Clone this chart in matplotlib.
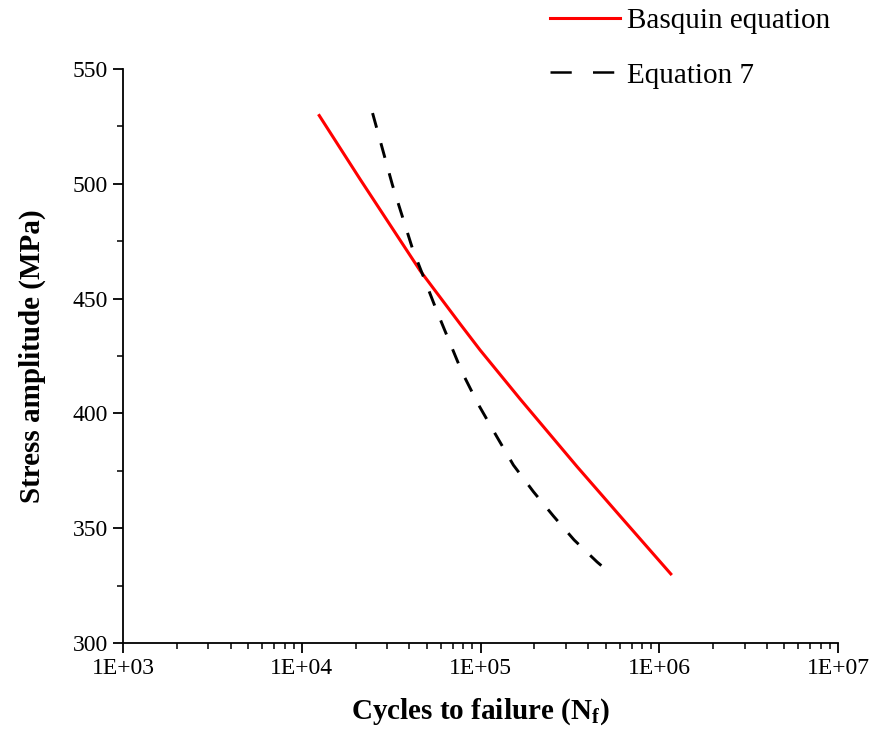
import numpy as np
import matplotlib
matplotlib.use('Agg')
import matplotlib.pyplot as plt
from matplotlib.lines import Line2D
from matplotlib.ticker import MultipleLocator, LogLocator, FuncFormatter, NullFormatter

plt.rcParams['font.family'] = ['Liberation Serif', 'DejaVu Serif']
plt.rcParams['mathtext.fontset'] = 'custom'
plt.rcParams['mathtext.rm'] = 'Liberation Serif'
plt.rcParams['mathtext.bf'] = 'Liberation Serif:bold'

# Basquin fit (cycles, stress amplitude in MPa)
basquin_n = [12380, 21180, 45860, 76780, 99360, 166300, 346700, 603200, 1174000]
basquin_s = [530.3, 502.0, 462.2, 439.0, 427.6, 406.3, 376.8, 355.3, 329.6]

# Equation 7 prediction
eq7_n = [24870, 32120, 41540, 56890, 78500, 96830, 123200, 152600,
         197500, 255500, 333500, 448500, 490800]
eq7_s = [530.8, 499.5, 471.9, 444.6, 418.2, 404.1, 389.9, 377.5,
         365.9, 355.3, 344.9, 335.3, 332.7]

fig = plt.figure(figsize=(8.73, 7.42), dpi=100)
ax = fig.add_axes([0.141, 0.1334, 0.819, 0.7736])

ax.plot(basquin_n, basquin_s, color='#ff0000', linewidth=2.2, solid_capstyle='butt')
ax.plot(eq7_n, eq7_s, color='black', linewidth=2.1, dashes=(5.2, 5.5))

ax.set_xscale('log')
ax.set_xlim(1e3, 1e7)
ax.set_ylim(300, 550)

ax.yaxis.set_major_locator(MultipleLocator(50))
ax.yaxis.set_minor_locator(MultipleLocator(25))
ax.xaxis.set_major_locator(LogLocator(base=10, numticks=10))
ax.xaxis.set_minor_locator(LogLocator(base=10, subs=np.arange(2, 10), numticks=20))
ax.xaxis.set_major_formatter(FuncFormatter(lambda v, p: '1E+%02d' % int(round(np.log10(v)))))
ax.xaxis.set_minor_formatter(NullFormatter())

ax.tick_params(which='major', direction='out', length=7, width=1.3, labelsize=17, pad=4)
ax.tick_params(which='minor', direction='out', length=4, width=1.1)

ax.spines['top'].set_visible(False)
ax.spines['right'].set_visible(False)
ax.spines['left'].set_linewidth(1.3)
ax.spines['bottom'].set_linewidth(1.3)

ax.set_xlabel(r'Cycles to failure ($\mathbf{N}_\mathbf{f}$)', fontsize=21, fontweight='bold', labelpad=12)
ax.set_ylabel('Stress amplitude (MPa)', fontsize=21, fontweight='bold', labelpad=19)

handles = [Line2D([], [], color='#ff0000', linewidth=2.2),
           Line2D([], [], color='black', linewidth=1.8, dashes=(8.5, 8.5))]
fig.legend(handles, ['Basquin equation', 'Equation 7'],
           loc='upper left', bbox_to_anchor=(550 / 873, 1 - 8 / 742),
           frameon=False, fontsize=21, borderpad=0, borderaxespad=0,
           handlelength=2.4, handletextpad=0.25, labelspacing=0.95)

plt.savefig('out.png', dpi=100)
